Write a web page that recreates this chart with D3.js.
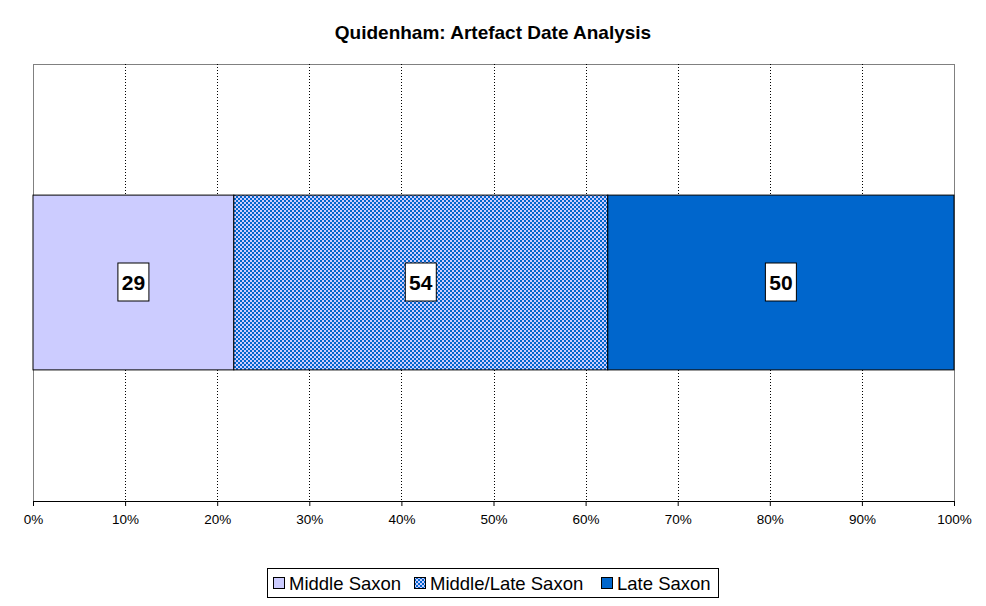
<!DOCTYPE html>
<html><head><meta charset="utf-8">
<script src="https://cdn.jsdelivr.net/npm/d3@7"></script>
<style>body{margin:0;background:#fff;} svg{display:block;font-family:"Liberation Sans",Arial,sans-serif;}</style>
</head><body>
<svg id="c" width="986" height="606"></svg>
<script>
const categories = ["Quidenham"];
const seriesNames = ["Middle Saxon", "Middle/Late Saxon", "Late Saxon"];
const seriesValues = [29, 54, 50];
const tickValues = [0,0.1,0.2,0.3,0.4,0.5,0.6,0.7,0.8,0.9,1];
const title = "Quidenham: Artefact Date Analysis";

const svg = d3.select("#c");
const m = {l:33, r:954, t:64, b:501};
const x = d3.scaleLinear().domain([0,1]).range([m.l, m.r]);
const y = d3.scaleBand().domain(categories).range([m.t, m.b]).paddingInner(0.6).paddingOuter(0.3);

const defs = svg.append("defs");
const pat = defs.append("pattern").attr("id","chk").attr("patternUnits","userSpaceOnUse").attr("width",4).attr("height",4);
pat.append("rect").attr("width",4).attr("height",4).attr("fill","#CCCCFF");
pat.append("rect").attr("x",0).attr("y",0).attr("width",2).attr("height",2).attr("fill","#0066CC");
pat.append("rect").attr("x",2).attr("y",2).attr("width",2).attr("height",2).attr("fill","#0066CC");
const fills = ["#CCCCFF", "url(#chk)", "#0066CC"];

svg.append("text").attr("x", 493).attr("y", 39).attr("text-anchor","middle")
  .attr("font-weight","bold").attr("font-size",19).text(title);

svg.append("rect").attr("x",m.l).attr("y",m.t).attr("width",m.r-m.l).attr("height",m.b-m.t)
  .attr("fill","none").attr("stroke","#808080").attr("stroke-width",1).attr("shape-rendering","crispEdges");

svg.append("g").selectAll("line").data(tickValues.slice(1,-1)).join("line")
  .attr("x1",d=>Math.round(x(d))+0.5).attr("x2",d=>Math.round(x(d))+0.5)
  .attr("y1",m.t).attr("y2",m.b)
  .attr("stroke","#000").attr("stroke-dasharray","1,2");

const total = d3.sum(seriesValues);
let cum = 0;
const segs = seriesValues.map((v,i)=>{const s={i, v, x0:cum/total, x1:(cum+v)/total}; cum+=v; return s;});
const by = y(categories[0]), bh = y.bandwidth();
svg.append("g").selectAll("rect").data(segs).join("rect")
  .attr("x",d=>x(d.x0)).attr("width",d=>x(d.x1)-x(d.x0))
  .attr("y",by).attr("height",bh)
  .attr("fill",d=>fills[d.i]).attr("stroke","#000").attr("stroke-width",1);

const lg = svg.append("g").selectAll("g").data(segs).join("g")
  .attr("transform",d=>`translate(${(x(d.x0)+x(d.x1))/2},${by+bh/2})`);
lg.append("rect").attr("x",-15.5).attr("y",-19.5).attr("width",31).attr("height",38)
  .attr("fill","#fff").attr("stroke","#000");
lg.append("text").attr("text-anchor","middle").attr("y",7.5).attr("font-weight","bold")
  .attr("font-size",21).text(d=>d.v);

const axis = d3.axisBottom(x).tickValues(tickValues).tickFormat(d3.format(".0%")).tickSize(5);
const ag = svg.append("g").attr("transform",`translate(0,${m.b})`).call(axis);
ag.select(".domain").attr("stroke","#000");
ag.selectAll(".tick line").attr("stroke","#000");
ag.selectAll(".tick text").attr("font-size",13.5).attr("font-family","Liberation Sans, Arial, sans-serif").attr("y",9).attr("dy","1em").attr("fill","#000");

const leg = svg.append("g");
leg.append("rect").attr("x",267.5).attr("y",568.5).attr("width",451).attr("height",29).attr("fill","#fff").attr("stroke","#000");
const items = leg.selectAll("g").data(seriesNames).join("g");
const itemX = [273, 414, 601];
items.attr("transform",(d,i)=>`translate(${itemX[i]},583)`);
items.append("rect").attr("x",0.5).attr("y",-5.5).attr("width",11).attr("height",11).attr("fill",(d,i)=>fills[i]).attr("stroke","#000");
items.append("text").attr("x",16).attr("y",7).attr("font-size",18.5).text(d=>d);
</script>
</body></html>
